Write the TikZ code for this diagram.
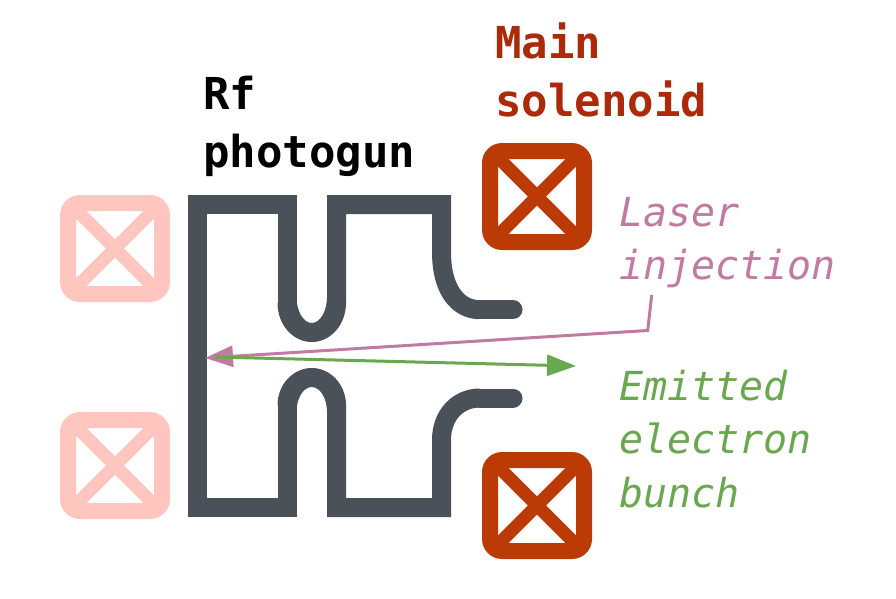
\documentclass[tikz,border=0pt]{standalone}
\usepackage{fontspec}
\usetikzlibrary{arrows.meta}
\setmonofont{DejaVu Sans Mono}
\definecolor{gun}{HTML}{4B5159}
\definecolor{coilA}{HTML}{BB3A06}
\definecolor{coilB}{HTML}{FFC5BF}
\definecolor{mauve}{HTML}{C27BA0}
\definecolor{leaf}{HTML}{6AA84F}
\definecolor{rust}{HTML}{AC2A0A}
\tikzset{
  x=1pt,y=-1pt,
  wall/.style={draw=gun,line width=19pt,line join=miter},
  bar/.style={line width=13pt,draw=#1},
  lab/.style={anchor=north west,inner sep=0pt,align=left,font=\ttfamily\fontsize{44}{57.5}\selectfont\bfseries},
  ital/.style={anchor=north west,inner sep=0pt,align=left,font=\ttfamily\fontsize{40}{53.5}\selectfont\itshape,text=#1}
}
\newcommand{\coilbox}[3]{%
  \begin{scope}[shift={(#1,#2)}]
    \fill[#3,even odd rule] [rounded corners=20pt] (0,0) rectangle (110,107)
      [sharp corners] (16,16) rectangle (94,91);
    \draw[bar=#3] (10,8.5) -- (100,98.5);
    \draw[bar=#3] (100,8.5) -- (10,98.5);
  \end{scope}}
\begin{document}
\begin{tikzpicture}
\useasboundingbox (0,0) rectangle (896,598);
\coilbox{482}{143}{coilA}
\coilbox{482}{452}{coilA}
\coilbox{60}{195}{coilB}
\coilbox{60}{412}{coilB}
% upper half of the gun
\draw[wall] (197.5,507.5) -- (197.5,204.5) -- (287,204.5) -- (287,304);
\draw[wall] (336.5,304) -- (336.5,204.5) -- (441.5,204.5) -- (441.5,252)
  .. controls (441.5,290) and (458,309.7) .. (480,309.7);
\fill[gun] (277.5,303) .. controls (277.5,324.5) and (292.7,342) .. (311.75,342)
  .. controls (330.8,342) and (346,324.5) .. (346,303)
  -- (327,303) -- (327,297) .. controls (327,311.3) and (320,323) .. (311.75,323)
  .. controls (303.5,323) and (296.5,311.3) .. (296.5,297) -- (296.5,303) -- cycle;
\draw[wall,line cap=round] (480,309.7) -- (513,309.7);
% lower half of the gun
\draw[wall] (188,507.5) -- (287,507.5) -- (287,404);
\draw[wall] (336.5,404) -- (336.5,507.5) -- (441.5,507.5) -- (441.5,440)
  .. controls (441.5,415) and (458,398) .. (480,398);
\fill[gun] (277.5,405) .. controls (277.5,385) and (292.7,368) .. (311.75,368)
  .. controls (330.8,368) and (346,385) .. (346,405)
  -- (327,405) -- (327,412) .. controls (327,398) and (320,387) .. (311.75,387)
  .. controls (303.5,387) and (296.5,398) .. (296.5,412) -- (296.5,405) -- cycle;
\draw[wall,line cap=round] (480,398) -- (513,398);
% labels
\node[lab] (rf) at (203,76) {Rf\\photogun};
\node[lab,text=rust] (main) at (495,23) {Main\\solenoid};
\node[ital=mauve] (laser) at (619,197) {Laser\\injection};
\node[ital=leaf] (bunch) at (619,369.5) {Emitted\\electron\\bunch};
% connectors
\coordinate (ls) at (651.7,295);
\coordinate (lk) at (647.7,330.5);
\coordinate (cath) at (205,358);
\coordinate (gs) at (215,357);
\coordinate (gt) at (576,366);
\draw[mauve,line width=3pt,-{Triangle[length=28pt,width=21pt]}] (ls) -- (lk) -- (cath);
\draw[leaf,line width=3pt,-{Triangle[length=29pt,width=21pt]}] (gs) -- (gt);
\end{tikzpicture}
\end{document}
